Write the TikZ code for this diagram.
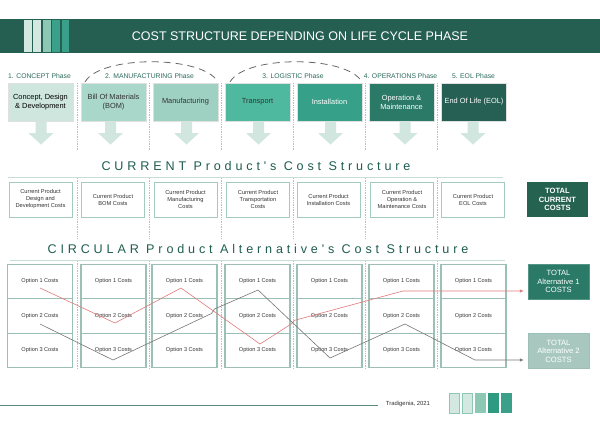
\documentclass[tikz,border=0pt]{standalone}
\usepackage{fontspec}
\usetikzlibrary{arrows.meta}
\setmainfont{Liberation Sans}
\newfontfamily\spacedfont[LetterSpace=30.5]{Liberation Sans}
\definecolor{hdr}{HTML}{255F52}
\definecolor{ttl}{HTML}{1F5E51}
\definecolor{lblc}{HTML}{2B6A5C}
\definecolor{pA}{HTML}{CFE6DF}
\definecolor{pB}{HTML}{A9D7CA}
\definecolor{pC}{HTML}{9FD1C2}
\definecolor{pD}{HTML}{4FB9A0}
\definecolor{pE}{HTML}{36A088}
\definecolor{pF}{HTML}{2B7A68}
\definecolor{pG}{HTML}{265F53}
\definecolor{arrc}{HTML}{D0E6DF}
\definecolor{cellb}{HTML}{9CC0B6}
\definecolor{curb}{HTML}{A4C9BE}
\definecolor{sepc}{HTML}{C8DDD6}
\definecolor{dotc}{HTML}{B0C4BE}
\definecolor{totA}{HTML}{25624F}
\definecolor{altA}{HTML}{2B7A67}
\definecolor{altB}{HTML}{A8C8BF}
\definecolor{redl}{HTML}{E07B7B}
\definecolor{greyl}{HTML}{777777}
\definecolor{txtc}{HTML}{333333}
\definecolor{botl}{HTML}{5E8C82}
\definecolor{sqA}{HTML}{D3E8E1}
\definecolor{sqB}{HTML}{8DC8B5}
\definecolor{sqC}{HTML}{2E9A82}
\definecolor{sqD}{HTML}{3AA08A}
\begin{document}
\begin{tikzpicture}[x=1pt,y=-1pt,
  phasebox/.style={draw=black!12, line width=0.5pt, minimum width=65pt, minimum height=38pt, inner sep=0pt, align=center, font=\fontsize{7.4}{9}\selectfont},
  lbl/.style={inner sep=0pt, text=lblc, font=\fontsize{6.8}{8}\selectfont},
  curbox/.style={draw=curb, line width=1pt, fill=white, minimum width=63pt, minimum height=35pt, inner sep=0pt, align=center, text=txtc, font=\fontsize{5.7}{7}\selectfont},
  cellbox/.style={draw=cellb, line width=1.2pt, fill=white, minimum width=65pt, minimum height=34.5pt, inner sep=0pt, text=txtc, font=\fontsize{5.6}{7}\selectfont},
  totbox/.style={minimum width=61pt, minimum height=35pt, inner sep=0pt, align=center, text=white, font=\fontsize{7.6}{8.5}\selectfont},
  bigtitle/.style={inner sep=0pt, text=ttl, font=\spacedfont\fontsize{12.6}{15}\selectfont},
  sepline/.style={draw=dotc, line width=0.7pt, dash pattern=on 0.8pt off 0.9pt},
  arcline/.style={draw=black!60, line width=0.8pt, dash pattern=on 7pt off 5pt},
  alt1line/.style={draw=redl, line width=0.6pt},
  alt2line/.style={draw=greyl, line width=0.6pt}
]
\useasboundingbox (0,0) rectangle (600,424);
\fill[white] (0,0) rectangle (600,424);

% header
\node[fill=hdr, minimum width=600pt, minimum height=34pt, inner sep=0pt, anchor=north west] (hdr) at (0,19) {};
\fill[sqA] (24,20) rectangle (32,52);
\fill[sqA] (33,20) rectangle (41,52);
\fill[sqB] (43,20) rectangle (51,52);
\fill[sqD] (52,20) rectangle (60,52);
\fill[sqD] (62,20) rectangle (69,52);
\node[text=white, inner sep=0pt, font=\fontsize{12.5}{15}\selectfont] (title) at (300,36) {COST STRUCTURE DEPENDING ON LIFE CYCLE PHASE};

% dotted separators
\foreach \sx in {77,149.5,221.5,293.5,365.5,437.5}{
  \draw[sepline] (\sx,83) -- (\sx,150);
  \draw[sepline] (\sx,178) -- (\sx,238);
  \draw[sepline] (\sx,261) -- (\sx,369);
}

% phase labels and arcs
\node[lbl] (l1) at (39.5,76.5) {1. CONCEPT Phase};
\node[lbl] (l2) at (149.5,76.5) {2. MANUFACTURING Phase};
\node[lbl] (l3) at (293,76.5) {3. LOGISTIC Phase};
\node[lbl] (l4) at (400.5,76.5) {4. OPERATIONS Phase};
\node[lbl] (l5) at (473.5,76.5) {5. EOL Phase};
\draw[arcline] (85,82) .. controls (100,55) and (203,55) .. (218,82);
\draw[arcline] (230,82) .. controls (245,55) and (347,55) .. (362,82);

% phase boxes
\node[phasebox, fill=pA, text=black] (p1) at (40.5,102) {Concept, Design\\\& Development};
\node[phasebox, fill=pB, text=txtc] (p2) at (113.5,102) {Bill Of Materials\\(BOM)};
\node[phasebox, fill=pC, text=txtc] (p3) at (185.5,102) {Manufacturing};
\node[phasebox, fill=pD, text=txtc] (p4) at (257.5,102) {Transport};
\node[phasebox, fill=pE, text=white] (p5) at (329.5,102) {Installation};
\node[phasebox, fill=pF, text=white] (p6) at (401.5,102) {Operation \&\\Maintenance};
\node[phasebox, fill=pG, text=white] (p7) at (474,102) {End Of Life (EOL)};

% block arrows
\foreach \ax in {41,110.5,186.5,258.5,330.5,405,473}{
  \fill[arrc] (\ax-5.5,121.5) -- (\ax+5.5,121.5) -- (\ax+5.5,133) -- (\ax+12.5,133) -- (\ax,144.5) -- (\ax-12.5,133) -- (\ax-5.5,133) -- cycle;
}

% current structure
\node[bigtitle] (curtitle) at (256,165.5) {CURRENT Product's Cost Structure};
\draw[draw=sepc, line width=0.8pt] (8,177) -- (503,177);
\node[curbox] (k1) at (40.5,199.5) {Current Product\\Design and\\Development Costs};
\node[curbox] (k2) at (113,199.5) {Current Product\\BOM Costs};
\node[curbox] (k3) at (185.5,199.5) {Current Product\\Manufacturing\\Costs};
\node[curbox] (k4) at (258,199.5) {Current Product\\Transportation\\Costs};
\node[curbox] (k5) at (328.5,199.5) {Current Product\\Installation Costs};
\node[curbox] (k6) at (402,199.5) {Current Product\\Operation \&\\Maintenance Costs};
\node[curbox] (k7) at (473,199.5) {Current Product\\EOL Costs};
\node[totbox, fill=totA, font=\bfseries\fontsize{7.6}{8.5}\selectfont] (tc) at (557.5,199.5) {TOTAL\\CURRENT\\COSTS};

% circular structure
\node[bigtitle] (circtitle) at (258,248.5) {CIRCULAR Product Alternative's Cost Structure};
\draw[draw=sepc, line width=0.8pt] (10,260) -- (505,260);
\foreach \cx [count=\ci] in {40,113.5,184.5,257.5,329.5,401.5,473.5}{
  \foreach \cy [count=\rj] in {281.5,316,350.5}{
    \node[cellbox] (c-\ci-\rj) at (\cx,\cy) {Option \rj{} Costs};
  }
}
\node[totbox, fill=altA, draw=altA!80!white, line width=0.5pt] (alt1) at (558.5,281.5) {TOTAL\\Alternative 1\\COSTS};
\node[totbox, fill=altB, draw=cellb, line width=0.5pt] (alt2) at (558.5,351) {TOTAL\\Alternative 2\\COSTS};

% alternative 1 path (red)
\draw[alt1line, -{Latex[length=4pt,width=3.5pt]}]
  ([yshift=-6.5pt]c-1-1.center) -- ([xshift=1.5pt,yshift=-7pt]c-2-2.center)
  -- ([xshift=-3.5pt,yshift=-6.5pt]c-3-1.center) -- ([xshift=2.5pt,yshift=6.5pt]c-4-3.center)
  -- (292,323.5) -- (294,320.5)
  -- ([xshift=1.5pt,yshift=-9.5pt]c-6-1.center) -- ([xshift=-4pt,yshift=-9.5pt]alt1.west);

% alternative 2 path (grey)
\draw[alt2line, -{Latex[length=4pt,width=3.5pt]}]
  ([yshift=-8pt]c-1-2.center) -- ([xshift=-0.5pt,yshift=-9.5pt]c-2-3.center)
  -- (211.5,313.5) -- (214.5,309)
  -- ([xshift=0.5pt,yshift=-8.5pt]c-4-1.center) -- ([xshift=0.5pt,yshift=-7.5pt]c-5-3.center)
  -- ([xshift=3.5pt,yshift=-8pt]c-6-2.center) -- ([xshift=1.5pt,yshift=-9.5pt]c-7-3.center)
  -- ([xshift=-4pt,yshift=-9pt]alt2.west);

% footer
\coordinate (fl) at (0,405);
\node[inner sep=0pt, text=txtc, font=\fontsize{5.9}{7}\selectfont] (credit) at (408,404) {Tradigenia, 2021};
\draw[draw=botl, line width=0.9pt] (fl) -- (378,405);
\draw[fill=sqA, draw=sqB, line width=0.4pt] (449,393) rectangle (459,413);
\draw[fill=sqA, draw=sqB, line width=0.4pt] (462.5,393) rectangle (472.5,413);
\fill[sqB] (475,393) rectangle (486,413);
\fill[sqC] (488,393) rectangle (499,413);
\fill[sqD] (501,393) rectangle (512,413);
\end{tikzpicture}
\end{document}
